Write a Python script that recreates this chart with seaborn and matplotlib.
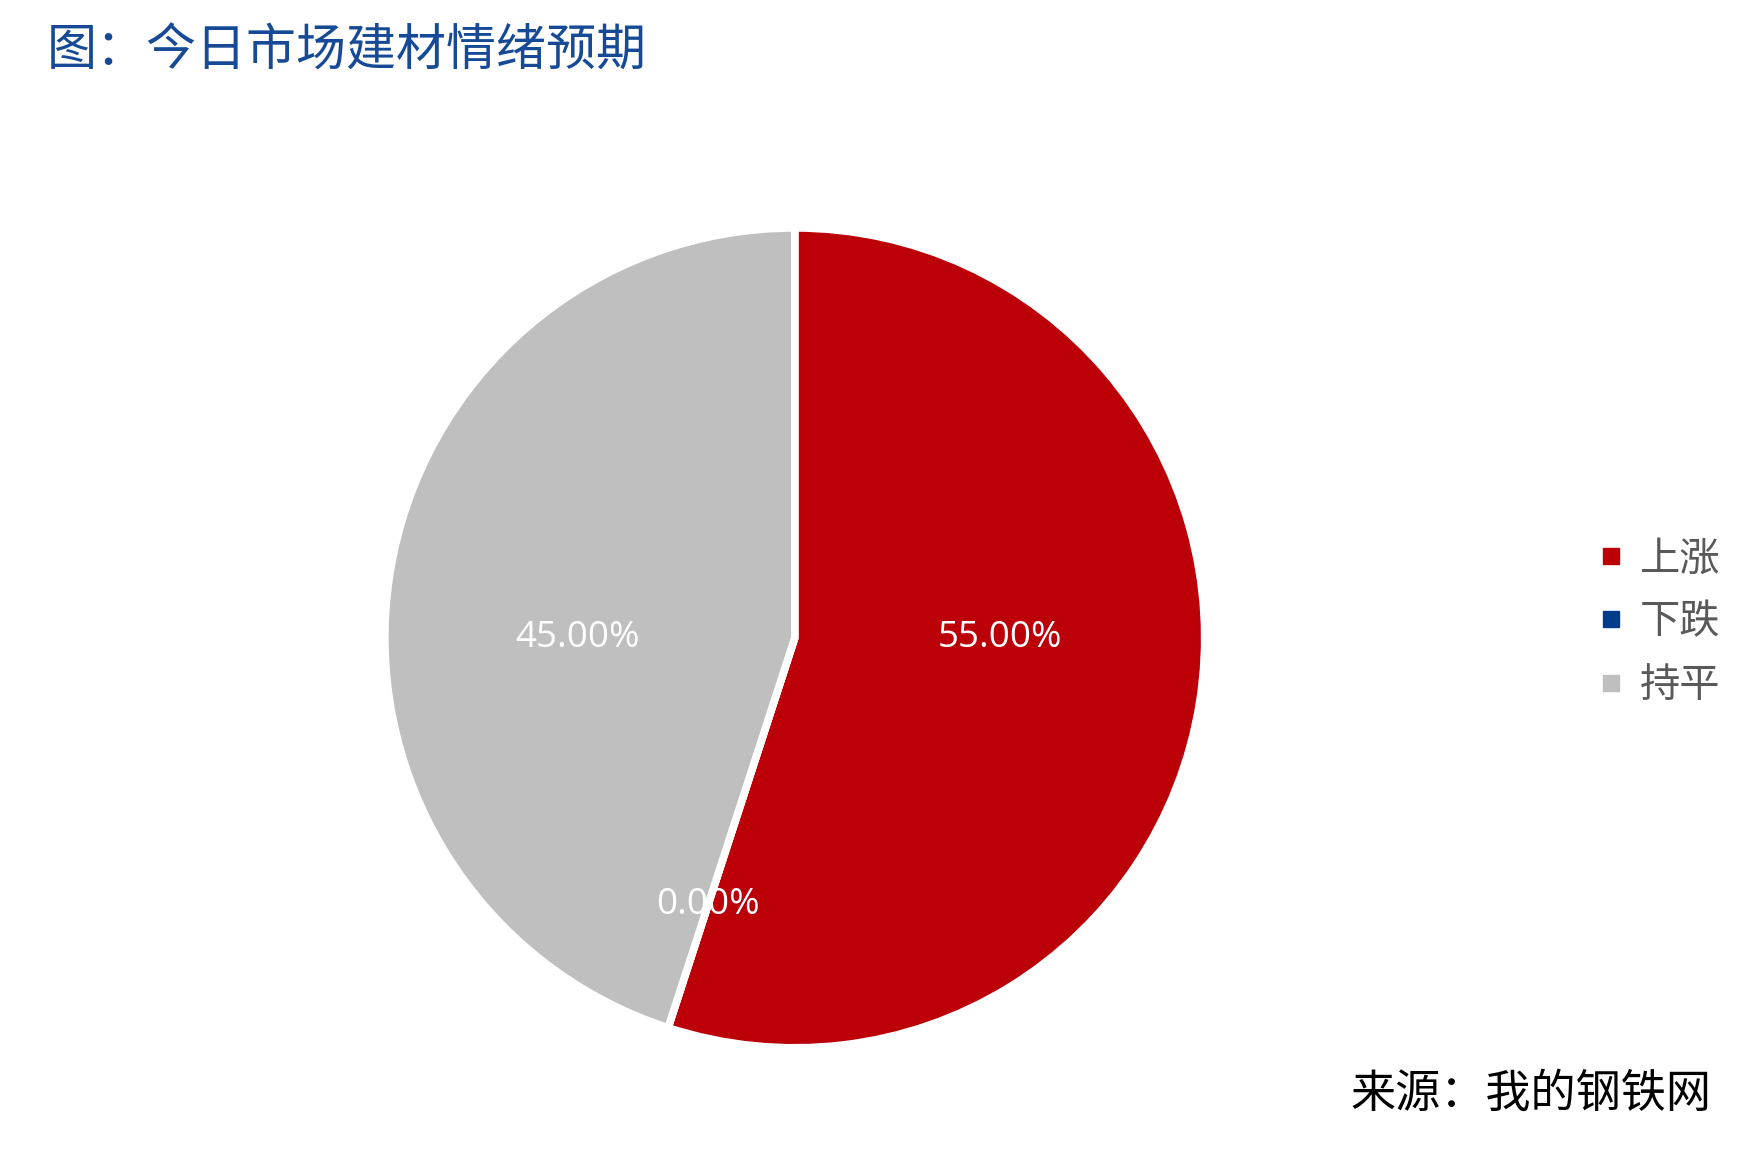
import matplotlib
matplotlib.use("Agg")
import matplotlib.pyplot as plt
import seaborn as sns
from matplotlib.lines import Line2D

# --- data ---
categories = ["上涨", "下跌", "持平"]
shares = [55.0, 0.0, 45.0]
slice_colors = ["#BB0008", "#003C8A", "#BFBFBF"]
title_text = "图：今日市场建材情绪预期"
source_text = "来源：我的钢铁网"

sns.set_theme(style="white")
palette = sns.color_palette(slice_colors)
plt.rcParams['font.family'] = ['Noto Sans CJK SC', 'DejaVu Sans']

fig = plt.figure(figsize=(17.64, 11.69), dpi=100)
fig.patch.set_facecolor("white")

# pie axes: centre ~ (795, 638) px, radius ~ 409 px
ax = fig.add_axes([0.1598, 0.016, 0.5815, 0.8767])
wedges, texts, autotexts = ax.pie(
    shares, colors=palette, startangle=90, counterclock=False,
    autopct=lambda p: f"{p:.2f}%", pctdistance=0.685,
    wedgeprops=dict(edgecolor="white", linewidth=5.5),
    textprops=dict(color="white", fontsize=26.5, family=["Open Sans", "DejaVu Sans"]))
ax.set_xlim(-1.25, 1.25)
ax.set_ylim(-1.25, 1.25)
ax.set_aspect("equal")
ax.axis("off")

# Excel-like label placement for the two large slices
autotexts[0].set_position((0.50, 0.0))
autotexts[2].set_position((-0.53, 0.0))

# title and source
fig.text(47 / 1764, 1 - 52 / 1169, title_text, fontsize=36, color="#174A96",
         ha="left", va="center")
fig.text(1712 / 1764, 1 - 1094 / 1169, source_text, fontsize=32.5, color="black",
         ha="right", va="center")

# legend
handles = [Line2D([0], [0], marker="s", linestyle="none", markersize=12,
                  markerfacecolor=c, markeredgecolor=c) for c in palette]
leg = fig.legend(handles, categories, loc="center left",
                 bbox_to_anchor=(1579 / 1764, 1 - 622 / 1169),
                 frameon=False, fontsize=29, handlelength=0.6,
                 handletextpad=0.42, labelspacing=0.55, borderpad=0)
for t in leg.get_texts():
    t.set_color("#595959")

fig.savefig("out.png", dpi=100, facecolor="white")
